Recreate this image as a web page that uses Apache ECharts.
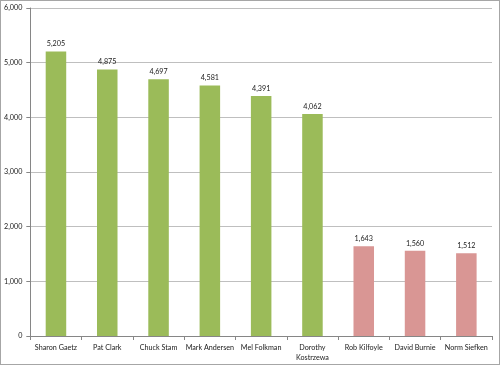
<!DOCTYPE html>
<html><head><meta charset="utf-8">
<script src="https://cdn.jsdelivr.net/npm/echarts@6/dist/echarts.min.js"></script>
<style>html,body{margin:0;padding:0;background:#fff}#c{width:500px;height:365px;box-sizing:border-box;border:1px solid #a6a6a6}</style>
</head><body><div id="c"></div>
<script>
const categories = ['Sharon Gaetz','Pat Clark','Chuck Stam','Mark Andersen','Mel Folkman','Dorothy Kostrzewa','Rob Kilfoyle','David Burnie','Norm Siefken'];
const values = [5205,4875,4697,4581,4391,4062,1643,1560,1512];
const groups = ['high','high','high','high','high','high','low','low','low'];
const yTicks = [0,1000,2000,3000,4000,5000,6000];
const groupColors = {high:'#9BBB59', low:'#D99694'};
const font = 'Lato, sans-serif';
const chart = echarts.init(document.getElementById('c'), null, {renderer:'canvas'});
chart.setOption({
  animation:false,
  grid:{left:27,right:7,top:7,bottom:28,containLabel:false},
  xAxis:{type:'category',data:categories,
    axisLine:{lineStyle:{color:'#868686'}},
    axisTick:{show:true,length:4,lineStyle:{color:'#868686'}},
    axisLabel:{fontSize:7.2,color:'#1a1a1a',fontFamily:font,margin:7,lineHeight:10,interval:0,
      formatter:v=>v.length>14?v.replace(' ','\n'):v}},
  yAxis:{type:'value',min:yTicks[0],max:yTicks[yTicks.length-1],interval:1000,
    axisLine:{show:true,lineStyle:{color:'#868686'}},
    axisTick:{show:true,length:4,inside:false,lineStyle:{color:'#868686'}},
    splitLine:{lineStyle:{color:'#bfbfbf',width:1}},
    axisLabel:{fontSize:7.2,color:'#1a1a1a',fontFamily:font,margin:8,
      formatter:v=>v.toLocaleString('en-US')}},
  series:[{type:'bar',barWidth:'40%',
    data:values.map((v,i)=>({value:v,itemStyle:{color:groupColors[groups[i]]}})),
    label:{show:true,position:'top',fontSize:7.2,color:'#1a1a1a',fontFamily:font,distance:4,
      formatter:p=>p.value.toLocaleString('en-US')}}]
});
</script></body></html>
